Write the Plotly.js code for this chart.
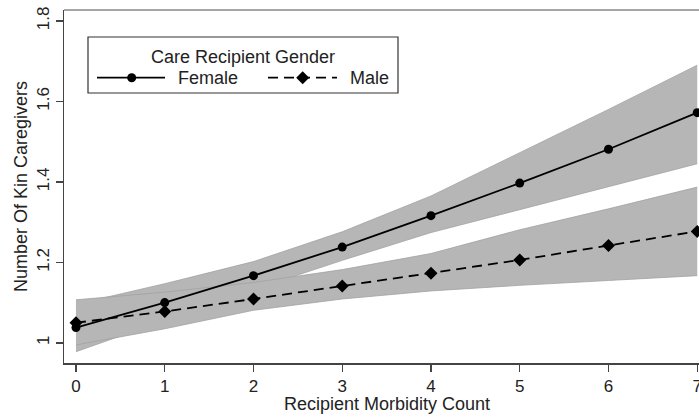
<!DOCTYPE html>
<html>
<head>
<meta charset="utf-8">
<script src="https://cdn.plot.ly/plotly-3.0.1.min.js"></script>
<style>html,body{margin:0;padding:0;background:#fff;}#chart{width:699px;height:417px;}</style>
</head>
<body>
<div id="chart"></div>
<script>
// Data
const morbidity = [0, 1, 2, 3, 4, 5, 6, 7];
const xTickLabels = ["0", "1", "2", "3", "4", "5", "6", "7"];
const yTickValues = [1, 1.2, 1.4, 1.6, 1.8];
const yTickLabels = ["1", "1.2", "1.4", "1.6", "1.8"];

const femaleMean = [1.038, 1.100, 1.167, 1.238, 1.316, 1.397, 1.481, 1.572];
const femaleLower = [0.978, 1.056, 1.132, 1.205, 1.274, 1.331, 1.388, 1.445];
const femaleUpper = [1.096, 1.147, 1.202, 1.276, 1.365, 1.472, 1.580, 1.690];

const maleMean = [1.050, 1.078, 1.109, 1.141, 1.173, 1.206, 1.242, 1.277];
const maleLower = [0.995, 1.035, 1.081, 1.109, 1.129, 1.143, 1.155, 1.167];
const maleUpper = [1.107, 1.126, 1.150, 1.182, 1.222, 1.281, 1.333, 1.387];

const seriesNames = ["Female", "Male"];
const legendTitle = "Care Recipient Gender";
const xTitle = "Recipient Morbidity Count";
const yTitle = "Number Of Kin Caregivers";

const FONT = "Liberation Sans, Arial, Helvetica, sans-serif";
const bandFill = "#b6b6b6";
const bandEdge = "#a2a2a2";

const traces = [
  {x: morbidity, y: femaleLower, type: "scatter", mode: "lines", line: {color: bandEdge, width: 0.8}, hoverinfo: "skip", showlegend: false},
  {x: morbidity, y: femaleUpper, type: "scatter", mode: "lines", fill: "tonexty", fillcolor: bandFill, line: {color: bandEdge, width: 0.8}, hoverinfo: "skip", showlegend: false},
  {x: morbidity, y: maleLower, type: "scatter", mode: "lines", line: {color: bandEdge, width: 0.8}, hoverinfo: "skip", showlegend: false},
  {x: morbidity, y: maleUpper, type: "scatter", mode: "lines", fill: "tonexty", fillcolor: bandFill, line: {color: bandEdge, width: 0.8}, hoverinfo: "skip", showlegend: false},
  {x: morbidity, y: femaleMean, name: seriesNames[0], type: "scatter", mode: "lines+markers",
   line: {color: "#000", width: 1.8}, marker: {symbol: "circle", size: 9, color: "#000"}, showlegend: false},
  {x: morbidity, y: maleMean, name: seriesNames[1], type: "scatter", mode: "lines+markers",
   line: {color: "#000", width: 1.8, dash: "10px,6px"}, marker: {symbol: "diamond", size: 10, color: "#000"}, showlegend: false}
];

// helpers to place the legend box in pixel terms of the plot area
const L = 64, T = 10, W = 635, H = 353;
const px = v => (v - L) / W;
const py = v => (T + H - v) / H;

const legY = 77.7;
const layout = {
  width: 699, height: 417,
  margin: {l: L, r: 0, t: T, b: 54},
  paper_bgcolor: "#fff", plot_bgcolor: "#fff",
  font: {family: FONT, size: 17, color: "#222"},
  showlegend: false,
  xaxis: {
    range: [-0.135, 7.02],
    tickvals: morbidity, ticktext: xTickLabels,
    ticklabeloverflow: "allow",
    showgrid: false, zeroline: false,
    showline: true, linecolor: "#444", linewidth: 1.5,
    ticks: "outside", ticklen: 7, tickwidth: 1.3, tickcolor: "#444",
    tickfont: {family: FONT, size: 17, color: "#222"}
  },
  yaxis: {
    range: [0.95, 1.827],
    tickvals: yTickValues, ticktext: yTickLabels,
    tickangle: -90,
    showgrid: false, zeroline: false,
    showline: true, linecolor: "#444", linewidth: 1.5,
    ticks: "outside", ticklen: 7, tickwidth: 1.3, tickcolor: "#444",
    tickfont: {family: FONT, size: 17, color: "#222"},
    title: {text: yTitle, font: {family: FONT, size: 18, color: "#222"}, standoff: 1}
  },
  shapes: [
    // plot region top border
    {type: "line", xref: "paper", yref: "paper", x0: 0, x1: 1.02, y0: 1, y1: 1, line: {color: "#888", width: 1.5}},
    // legend box
    {type: "rect", xref: "paper", yref: "paper", x0: px(88), x1: px(398), y0: py(93), y1: py(37), fillcolor: "#fff", line: {color: "#333", width: 1.2}},
    // female sample
    {type: "line", xref: "paper", yref: "paper", x0: px(97), x1: px(165), y0: py(legY), y1: py(legY), line: {color: "#000", width: 1.8}},
    {type: "circle", xref: "paper", yref: "paper", xsizemode: "pixel", ysizemode: "pixel", xanchor: px(131.7), yanchor: py(legY), x0: -4.5, x1: 4.5, y0: -4.5, y1: 4.5, fillcolor: "#000", line: {color: "#000", width: 0}},
    // male sample
    {type: "line", xref: "paper", yref: "paper", x0: px(268), x1: px(337), y0: py(legY), y1: py(legY), line: {color: "#000", width: 1.8, dash: "10px,6px"}},
    {type: "path", xref: "paper", yref: "paper", xsizemode: "pixel", ysizemode: "pixel", xanchor: px(302.7), yanchor: py(legY), path: "M0,6.5 L6.5,0 L0,-6.5 L-6.5,0 Z", fillcolor: "#000", line: {color: "#000", width: 0}}
  ],
  annotations: [
    {xref: "paper", yref: "paper", x: px(387), y: py(404), text: xTitle, showarrow: false, xanchor: "center", yanchor: "middle", font: {family: FONT, size: 18, color: "#222"}},
    {xref: "paper", yref: "paper", x: px(243.5), y: py(56.5), text: legendTitle, showarrow: false, xanchor: "center", yanchor: "middle", font: {family: FONT, size: 18, color: "#222"}},
    {xref: "paper", yref: "paper", x: px(176), y: py(legY), text: seriesNames[0], showarrow: false, xanchor: "left", yanchor: "middle", font: {family: FONT, size: 18, color: "#222"}},
    {xref: "paper", yref: "paper", x: px(348), y: py(legY), text: seriesNames[1], showarrow: false, xanchor: "left", yanchor: "middle", font: {family: FONT, size: 18, color: "#222"}}
  ]
};

Plotly.newPlot("chart", traces, layout, {staticPlot: true, displayModeBar: false});
</script>
</body>
</html>
